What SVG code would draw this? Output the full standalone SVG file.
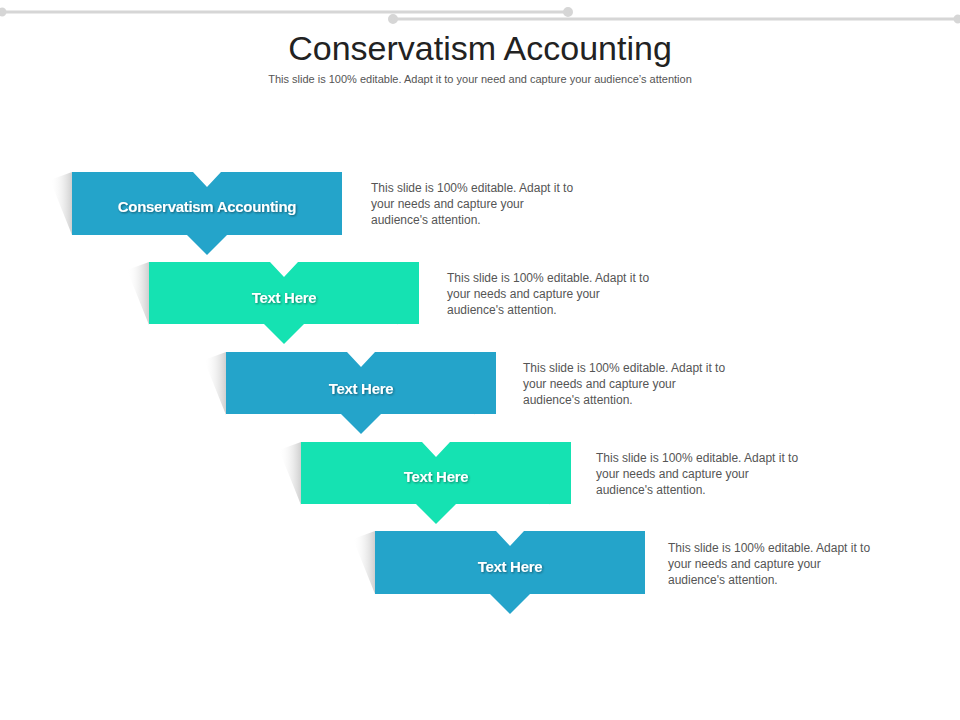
<svg xmlns="http://www.w3.org/2000/svg" width="960" height="720" viewBox="0 0 960 720">
<defs>
<linearGradient id="gl" x1="1" y1="0" x2="0" y2="0"><stop offset="0" stop-color="#cfcfcf"/><stop offset="1" stop-color="#fff" stop-opacity="0"/></linearGradient>
<linearGradient id="gr" x1="0" y1="0" x2="1" y2="0"><stop offset="0" stop-color="#cfcfcf"/><stop offset="1" stop-color="#fff" stop-opacity="0"/></linearGradient>
<filter id="ts" x="-10%" y="-30%" width="120%" height="160%"><feDropShadow dx="1" dy="1" stdDeviation="0.8" flood-color="#000" flood-opacity="0.45"/></filter>
<g id="shape">
<polygon points="0,8 22,0 22,63" fill="url(#gl)"/>
<polygon points="292,8 270,0 270,63" fill="url(#gr)"/>
</g>
</defs>
<style>
.t{font-family:"Liberation Sans",Arial,sans-serif}
.lbl{font-size:15px;font-weight:bold;fill:#fff;text-anchor:middle;letter-spacing:-0.3px}
.d{font-size:12px;fill:#555}
.blue{fill:#24A4CA}.green{fill:#15E2B2}
</style>
<g id="deco" stroke="#d6d6d6" stroke-width="3" fill="#d6d6d6">
<line x1="2" y1="12" x2="568" y2="12"/><circle cx="2" cy="12" r="3"/><circle cx="568" cy="12" r="3.5"/>
<line x1="393" y1="19" x2="958" y2="19"/><circle cx="393" cy="19" r="3.5"/><circle cx="958" cy="19" r="3"/>
</g>
<text class="t" x="480" y="60" font-size="34" fill="#222" text-anchor="middle">Conservatism Accounting</text>
<text class="t" x="480" y="83" font-size="11" fill="#555" text-anchor="middle">This slide is 100% editable. Adapt it to your need and capture your audience’s attention</text>
<g id="connectors"/>
<g id="n1" transform="translate(50,172)">
<use href="#shape"/>
<polygon class="blue" points="22,0 143,0 157,15 171,0 292,0 292,63 177,63 157,83 137,63 22,63"/>
<text class="t lbl" x="157" y="40" filter="url(#ts)">Conservatism Accounting</text>
</g>
<g id="n2" transform="translate(127,262)">
<use href="#shape"/>
<polygon class="green" points="22,0 143,0 157,15 171,0 292,0 292,62 177,62 157,82 137,62 22,62"/>
<text class="t lbl" x="157" y="41" filter="url(#ts)">Text Here</text>
</g>
<g id="n3" transform="translate(204,352)">
<use href="#shape"/>
<polygon class="blue" points="22,0 143,0 157,15 171,0 292,0 292,62 177,62 157,82 137,62 22,62"/>
<text class="t lbl" x="157" y="42" filter="url(#ts)">Text Here</text>
</g>
<g id="n4" transform="translate(279,442)">
<use href="#shape"/>
<polygon class="green" points="22,0 143,0 157,15 171,0 292,0 292,62 177,62 157,82 137,62 22,62"/>
<text class="t lbl" x="157" y="40" filter="url(#ts)">Text Here</text>
</g>
<g id="n5" transform="translate(353,531)">
<use href="#shape"/>
<polygon class="blue" points="22,0 143,0 157,15 171,0 292,0 292,63 177,63 157,83 137,63 22,63"/>
<text class="t lbl" x="157" y="41" filter="url(#ts)">Text Here</text>
</g>
<g class="t d">
<text x="371" y="192">This slide is 100% editable. Adapt it to<tspan x="371" dy="16">your needs and capture your</tspan><tspan x="371" dy="16">audience's attention.</tspan></text>
<text x="447" y="282">This slide is 100% editable. Adapt it to<tspan x="447" dy="16">your needs and capture your</tspan><tspan x="447" dy="16">audience's attention.</tspan></text>
<text x="523" y="372">This slide is 100% editable. Adapt it to<tspan x="523" dy="16">your needs and capture your</tspan><tspan x="523" dy="16">audience's attention.</tspan></text>
<text x="596" y="462">This slide is 100% editable. Adapt it to<tspan x="596" dy="16">your needs and capture your</tspan><tspan x="596" dy="16">audience's attention.</tspan></text>
<text x="668" y="552">This slide is 100% editable. Adapt it to<tspan x="668" dy="16">your needs and capture your</tspan><tspan x="668" dy="16">audience's attention.</tspan></text>
</g>
</svg>
